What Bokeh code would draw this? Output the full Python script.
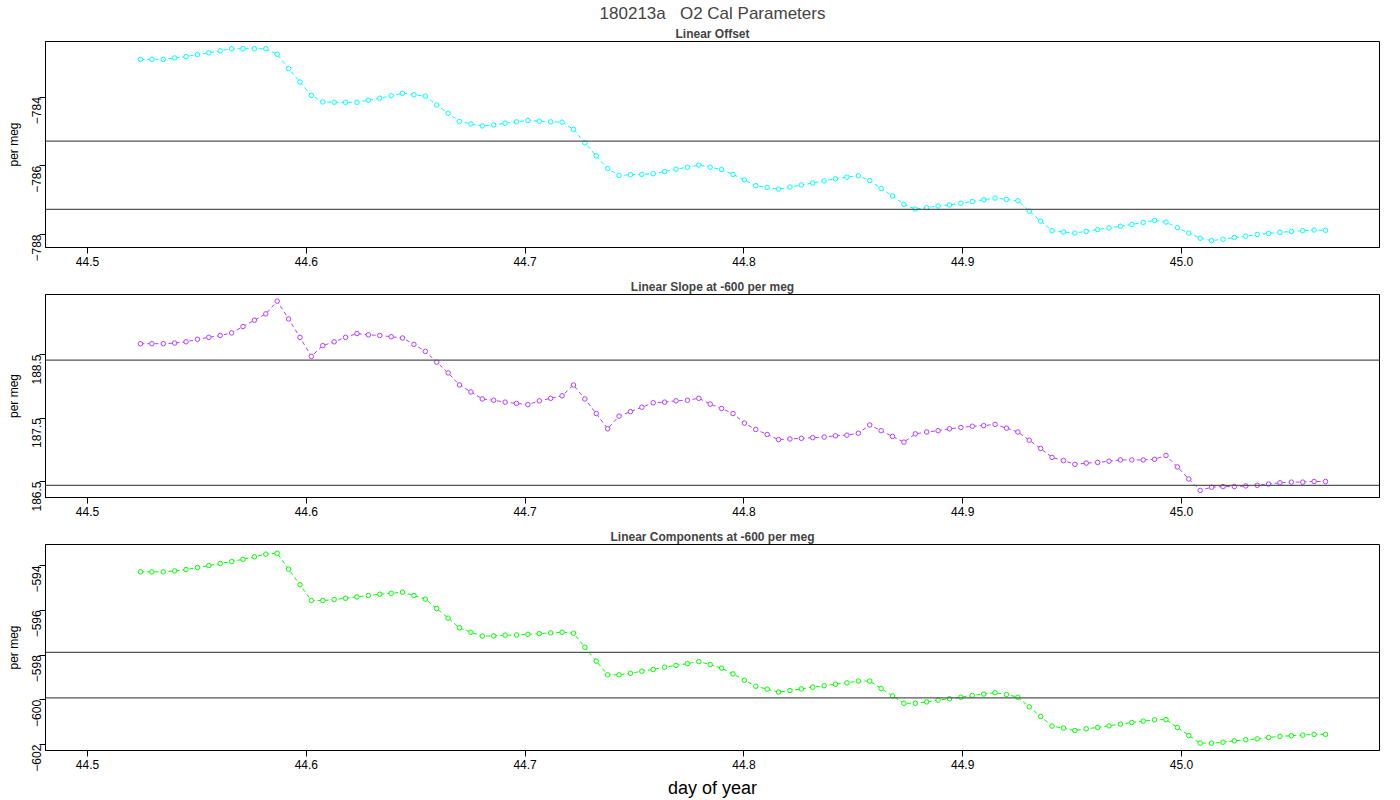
import math
from bokeh.plotting import figure
from bokeh.layouts import column
from bokeh.models import Title, Span, FixedTicker
from bokeh.embed import file_html
from bokeh.resources import INLINE

t0 = 44.5242
dt = 0.005208

offset = [-782.90, -782.90, -782.90, -782.86, -782.82, -782.76, -782.71, -782.65, -782.59, -782.59,
          -782.59, -782.59, -782.75, -783.17, -783.56, -783.95, -784.14, -784.15, -784.15, -784.15,
          -784.09, -784.03, -783.96, -783.89, -783.93, -783.97, -784.23, -784.47, -784.71, -784.78,
          -784.84, -784.81, -784.76, -784.72, -784.68, -784.70, -784.72, -784.73, -784.94, -785.33,
          -785.71, -786.08, -786.28, -786.26, -786.25, -786.23, -786.17, -786.10, -786.04, -785.98,
          -786.04, -786.11, -786.25, -786.41, -786.58, -786.63, -786.68, -786.62, -786.56, -786.50,
          -786.44, -786.38, -786.33, -786.29, -786.43, -786.66, -786.88, -787.12, -787.26, -787.22,
          -787.17, -787.14, -787.09, -787.04, -786.99, -786.94, -786.98, -787.02, -787.32, -787.61,
          -787.89, -787.93, -787.96, -787.91, -787.86, -787.81, -787.76, -787.71, -787.65, -787.59,
          -787.64, -787.80, -787.96, -788.11, -788.18, -788.14, -788.09, -788.05, -788.00, -787.97,
          -787.94, -787.91, -787.89, -787.87, -787.88]
slope = [188.67, 188.67, 188.67, 188.68, 188.70, 188.74, 188.77, 188.80, 188.84, 188.94,
         189.04, 189.14, 189.34, 189.06, 188.77, 188.47, 188.64, 188.70, 188.77, 188.83,
         188.81, 188.80, 188.78, 188.76, 188.66, 188.55, 188.38, 188.21, 188.02, 187.91,
         187.80, 187.78, 187.75, 187.73, 187.71, 187.77, 187.81, 187.85, 188.02, 187.80,
         187.57, 187.33, 187.53, 187.60, 187.67, 187.74, 187.75, 187.77, 187.78, 187.81,
         187.72, 187.65, 187.57, 187.42, 187.32, 187.24, 187.16, 187.17, 187.18, 187.19,
         187.20, 187.22, 187.23, 187.26, 187.39, 187.30, 187.21, 187.12, 187.25, 187.28,
         187.30, 187.33, 187.35, 187.37, 187.38, 187.40, 187.34, 187.28, 187.15, 187.02,
         186.88, 186.83, 186.77, 186.79, 186.80, 186.82, 186.84, 186.84, 186.84, 186.85,
         186.91, 186.73, 186.54, 186.36, 186.41, 186.42, 186.42, 186.43, 186.44, 186.46,
         186.48, 186.49, 186.49, 186.50, 186.50]
comps = [-594.28, -594.28, -594.28, -594.24, -594.18, -594.09, -594.00, -593.91, -593.82, -593.72,
         -593.61, -593.49, -593.45, -594.16, -594.86, -595.56, -595.56, -595.52, -595.46, -595.40,
         -595.34, -595.28, -595.24, -595.19, -595.34, -595.50, -595.92, -596.35, -596.78, -596.98,
         -597.15, -597.14, -597.11, -597.10, -597.07, -597.04, -597.01, -596.98, -597.02, -597.65,
         -598.27, -598.88, -598.88, -598.81, -598.72, -598.64, -598.54, -598.46, -598.38, -598.29,
         -598.42, -598.58, -598.84, -599.12, -599.39, -599.52, -599.65, -599.58, -599.51, -599.43,
         -599.37, -599.30, -599.24, -599.16, -599.16, -599.49, -599.82, -600.15, -600.15, -600.09,
         -600.01, -599.95, -599.88, -599.80, -599.74, -599.68, -599.76, -599.88, -600.31, -600.74,
         -601.17, -601.26, -601.37, -601.29, -601.23, -601.16, -601.08, -601.01, -600.95, -600.89,
         -600.88, -601.23, -601.59, -601.93, -601.93, -601.89, -601.83, -601.78, -601.74, -601.68,
         -601.63, -601.60, -601.57, -601.54, -601.54]

x_ticks = [44.5, 44.6, 44.7, 44.8, 44.9, 45.0]
x_tick_labels = ["44.5", "44.6", "44.7", "44.8", "44.9", "45.0"]
panels = [
    dict(title="Linear Offset", y=offset, color="#00FFFF", yr=(-788.38, -782.38),
         ticks=[-788, -786, -784], hl=[-785.28, -787.27], fh=206, top=35, bot=26),
    dict(title="Linear Slope at -600 per meg", y=slope, color="#B040FF", yr=(186.248, 189.445),
         ticks=[186.5, 187.5, 188.5], hl=[188.41, 186.44], fh=203, top=21, bot=26),
    dict(title="Linear Components at -600 per meg", y=comps, color="#00FF00", yr=(-602.26, -593.06),
         ticks=[-602, -600, -598, -596, -594], hl=[-597.88, -599.91], fh=206, top=21, bot=40),
]

xs = [t0 + i * dt for i in range(len(offset))]
FONT = "Liberation Sans"
figs = []
for i, pd_ in enumerate(panels):
    p = figure(frame_width=1334, frame_height=pd_["fh"], output_backend="svg", toolbar_location=None,
               x_range=(44.4808, 45.0905), y_range=pd_["yr"],
               min_border_left=45, min_border_right=5, min_border_top=pd_["top"],
               min_border_bottom=pd_["bot"], title=None)
    p.grid.visible = False
    p.outline_line_color = "black"
    p.outline_line_alpha = 1
    p.background_fill_color = "white"
    p.border_fill_color = "white"
    t = Title(text=pd_["title"], align="center", text_font=FONT, text_font_size="12px",
              text_font_style="bold", offset=0, standoff=2)
    p.add_layout(t, "above")
    if i == 0:
        t2 = Title(text="180213a\u00a0\u00a0\u00a0O2 Cal Parameters", align="center", text_font=FONT,
                   text_font_size="17px", text_font_style="normal", standoff=2)
        p.add_layout(t2, "above")
    p.xaxis.ticker = FixedTicker(ticks=x_ticks)
    p.xaxis.major_label_overrides = dict(zip(x_ticks, x_tick_labels))
    p.yaxis.ticker = FixedTicker(ticks=pd_["ticks"])
    p.yaxis.major_label_orientation = math.pi / 2
    p.yaxis.axis_label = "per meg"
    for ax in (p.xaxis, p.yaxis):
        ax.major_label_text_font = FONT
        ax.major_label_text_font_size = "12px"
        ax.major_label_text_color = "black"
        ax.major_label_standoff = 3
        ax.axis_label_text_font = FONT
        ax.axis_label_text_font_style = "normal"
        ax.axis_label_text_color = "black"
        ax.minor_tick_line_color = None
        ax.major_tick_out = 6
        ax.major_tick_in = 0
        ax.axis_line_color = "black"
        ax.major_tick_line_color = "black"
    p.yaxis.axis_label_text_font_size = "12px"
    p.yaxis.axis_label_standoff = 4
    if i == 2:
        p.xaxis.axis_label = "day of year"
        p.xaxis.axis_label_text_font_size = "18px"
        p.xaxis.axis_label_standoff = 6
    for v in pd_["hl"]:
        p.add_layout(Span(location=v, dimension="width", line_color="#555555", line_width=1.3))
    p.line(xs, pd_["y"], line_color=pd_["color"], line_dash="4 3", line_width=1)
    p.scatter(xs, pd_["y"], marker="circle", size=4.5, fill_color="white",
              line_color=pd_["color"], line_width=1)
    figs.append(p)

layout = column(*figs, spacing=0)
open("out.html", "w").write(file_html(layout, INLINE))
